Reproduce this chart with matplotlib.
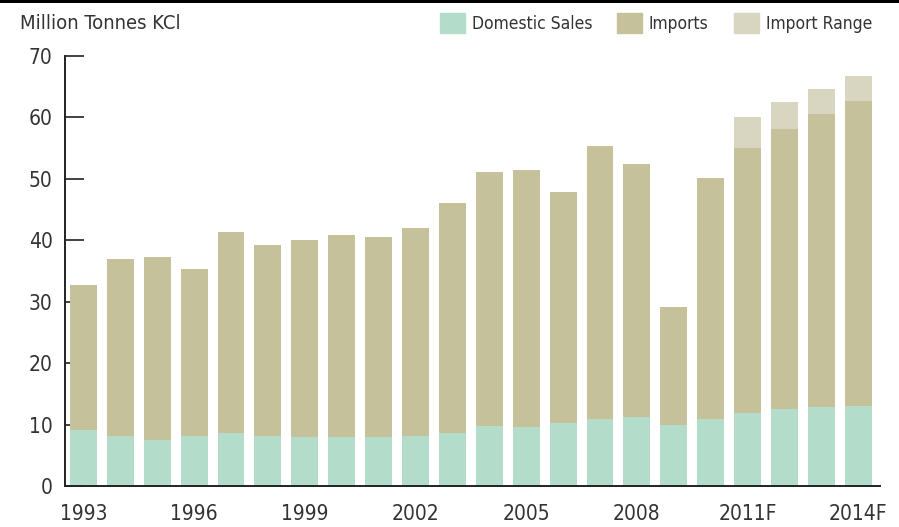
import matplotlib.pyplot as plt
from matplotlib.patches import Patch, Rectangle
import numpy as np

# values (million tonnes KCl)
years = ["1993", "1994", "1995", "1996", "1997", "1998", "1999", "2000", "2001", "2002",
         "2003", "2004", "2005", "2006", "2007", "2008", "2009", "2010",
         "2011F", "2012F", "2013F", "2014F"]
domestic = [9.1, 8.1, 7.5, 8.1, 8.6, 8.2, 8.0, 7.9, 7.9, 8.2,
            8.6, 9.7, 9.6, 10.3, 10.9, 11.2, 10.0, 10.9,
            11.9, 12.5, 12.9, 13.0]
total = [32.7, 36.9, 37.2, 35.4, 41.4, 39.2, 40.0, 40.8, 40.6, 42.0,
         46.1, 51.2, 51.4, 47.9, 55.3, 52.4, 29.2, 50.1,
         55.1, 58.1, 60.6, 62.6]
range_top = [0, 0, 0, 0, 0, 0, 0, 0, 0, 0,
             0, 0, 0, 0, 0, 0, 0, 0,
             60.0, 62.5, 64.6, 66.7]
shown_labels = ["1993", "1996", "1999", "2002", "2005", "2008", "2011F", "2014F"]

c_dom = "#b3dccb"
c_imp = "#c4c19b"
c_rng = "#d8d5c0"

plt.rcParams['font.family'] = ['DejaVu Sans']
plt.rcParams['font.stretch'] = 'condensed'

fig = plt.figure(figsize=(8.99, 5.27), dpi=100)
ax = fig.add_axes([0.0723, 0.0778, 0.9066, 0.8159])

x = np.arange(len(years))
imports = np.array(total) - np.array(domestic)
rng = np.where(np.array(range_top) > 0, np.array(range_top) - np.array(total), 0)

w = 0.73
ax.bar(x, domestic, w, color=c_dom, zorder=2)
ax.bar(x, imports, w, bottom=domestic, color=c_imp, zorder=2)
ax.bar(x, rng, w, bottom=total, color=c_rng, zorder=2)

ax.set_xlim(-0.5, 21.59)
ax.set_ylim(0, 70)
ax.set_yticks(range(0, 71, 10))
ax.set_axisbelow(True)
ax.tick_params(axis='y', direction='in', length=14, width=1.3, color='#333333',
               labelsize=15, labelcolor='#333333', pad=9)
ticks = [years.index(l) for l in shown_labels]
ax.set_xticks(ticks)
ax.set_xticklabels(shown_labels)
ax.tick_params(axis='x', length=0, labelsize=15, labelcolor='#333333', pad=13)

for s in ['top', 'right']:
    ax.spines[s].set_visible(False)
for s in ['left', 'bottom']:
    ax.spines[s].set_linewidth(1.4)
    ax.spines[s].set_color('#222222')

fig.text(0.022, 0.956, "Million Tonnes KCl", fontsize=14.5, color='#333333', va='center')

handles = [Patch(color=c_dom, label="Domestic Sales"),
           Patch(color=c_imp, label="Imports"),
           Patch(color=c_rng, label="Import Range")]
fig.legend(handles=handles, loc='center right', bbox_to_anchor=(0.970, 0.956), ncol=3,
           frameon=False, fontsize=12.5, handlelength=1.44, handleheight=1.32,
           columnspacing=1.44, handletextpad=0.4, borderaxespad=0, borderpad=0,
           labelcolor='#333333')

# black rule across the top
fig.add_artist(Rectangle((0, 0.994), 1, 0.006, transform=fig.transFigure,
                         color='black', lw=0))

fig.savefig("out.png", dpi=100)
